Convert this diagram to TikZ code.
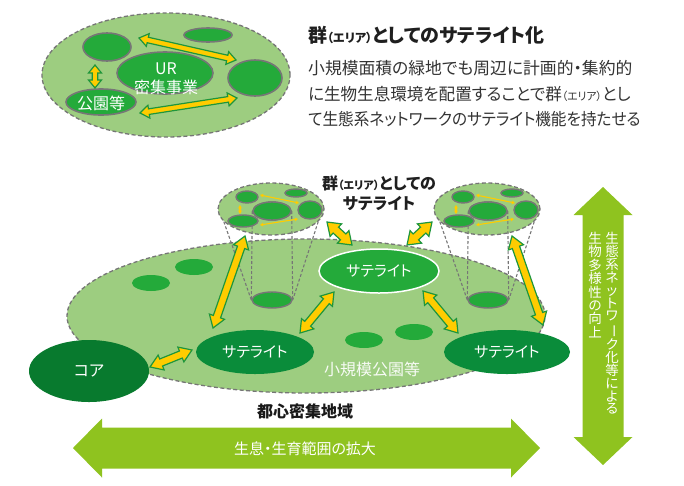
\documentclass[tikz,border=0pt]{standalone}
\usepackage{fontspec}
\usepackage{graphicx}
\usetikzlibrary{shapes.geometric,calc,arrows.meta}
\newfontfamily\jp[CharacterWidth=AlternateProportional]{Noto Sans CJK JP}
\definecolor{lg}{RGB}{157,205,128}
\definecolor{mg}{RGB}{36,170,58}
\definecolor{dg}{RGB}{10,140,58}
\definecolor{cg}{RGB}{8,122,46}
\definecolor{yg}{RGB}{143,195,31}
\definecolor{ay}{RGB}{255,204,0}
\definecolor{ag}{RGB}{30,150,60}
\definecolor{gl}{RGB}{118,118,118}
\tikzset{
  bigell/.style={ellipse, draw=gl, dash pattern=on 4pt off 2.5pt, line width=1.3pt, fill=lg, inner sep=0},
  innerc/.style={ellipse, draw=gl, line width=1.6pt, fill=mg, inner sep=0},
  blob/.style={ellipse, fill=mg, inner sep=0},
  satn/.style={ellipse, fill=dg, inner sep=0, text=white, font=\jp\fontsize{15}{15}\selectfont},
  conel/.style={draw=gl, line width=1.1pt, dash pattern=on 3pt off 2pt},
  yarr/.style={fill=ay, draw=ag, line width=1.2pt, line join=miter},
  tinyarr/.style={draw=ay, line width=1.1pt, {Stealth[length=3.5pt,width=4pt]}-{Stealth[length=3.5pt,width=4pt]}},
  txt/.style={inner sep=0, font=\jp\fontsize{16.8}{16.8}\selectfont, text=black!80},
  wtxt/.style={inner sep=0, text=white},
}
\newcommand{\yarrowdraw}[5]{%
  \path ($(#1)!#5!(#2)$) coordinate (ha) ($(#2)!#5!(#1)$) coordinate (hb);
  \filldraw[yarr] ($(ha)!#3!90:(#2)$) -- ($(ha)!#4!90:(#2)$) -- ($(hb)!#4!-90:(#1)$) -- ($(hb)!#3!-90:(#1)$) -- (#2) -- ($(hb)!#3!90:(#1)$) -- ($(hb)!#4!90:(#1)$) -- ($(ha)!#4!-90:(#2)$) -- ($(ha)!#3!-90:(#2)$) -- (#1) -- cycle;
}
\newcommand{\clusterat}[2]{%
\begin{scope}[shift={(#2,0)}]
  \node[bigell, minimum width=106, minimum height=52] (#1g) at (271,209) {};
  \node[innerc, line width=1.4pt, minimum width=38, minimum height=18] (#1m) at (272,211) {};
  \node[innerc, line width=1.4pt, minimum width=40, minimum height=16] (#1b) at (272,300) {};
  \draw[conel] (#1m.west) -- (#1b.west) (#1m.east) -- (#1b.east)
               (#1g.195) -- (#1b.west) (#1g.-15) -- (#1b.east);
  \node[innerc, line width=1.4pt, minimum width=38, minimum height=18] at (272,211) {};
  \node[innerc, line width=1.4pt, minimum width=22, minimum height=12] (#1p) at (247,197) {};
  \node[innerc, line width=1.4pt, minimum width=22, minimum height=8] (#1q) at (296,193) {};
  \node[innerc, line width=1.4pt, minimum width=24, minimum height=18] (#1r) at (310,210) {};
  \node[innerc, line width=1.4pt, minimum width=30, minimum height=12] (#1s) at (243,221) {};
  \coordinate (#1t1) at (260,195); \coordinate (#1t2) at (299,203);
  \coordinate (#1t3) at (240,205); \coordinate (#1t4) at (240,214);
  \coordinate (#1t5) at (260,225); \coordinate (#1t6) at (298,219);
  \draw[tinyarr] (#1t1) -- (#1t2);
  \draw[tinyarr] (#1t3) -- (#1t4);
  \draw[tinyarr] (#1t5) -- (#1t6);
\end{scope}}
\begin{document}
\begin{tikzpicture}[x=1pt,y=-1pt]
\useasboundingbox (0,0) rectangle (684,485);
\fill[white] (0,0) rectangle (684,485);

% ---------- top-left schematic ----------
\node[bigell, minimum width=248, minimum height=124] (grp) at (166,75) {};
\node[innerc, minimum width=48, minimum height=28] (ga) at (107,47) {};
\node[innerc, minimum width=48, minimum height=14] (gb) at (208,35) {};
\node[innerc, minimum width=96, minimum height=42] (ur) at (165,73) {};
\node[innerc, minimum width=54, minimum height=36] (gc) at (255,78) {};
\node[innerc, minimum width=70, minimum height=26] (park) at (101,102) {};
\node[wtxt, align=center, font=\jp\fontsize{16}{19}\selectfont] (urt) at (166,79) {UR\\密集事業};
\node[wtxt, font=\jp\fontsize{16}{16}\selectfont] (parkt) at (101,103) {公園等};
\coordinate (s1) at (139,38); \coordinate (e1) at (236,60);
\coordinate (s2) at (95,65);  \coordinate (e2) at (95,88);
\coordinate (s3) at (140,113); \coordinate (e3) at (237,98);
\yarrowdraw{s1}{e1}{6.5pt}{2.8pt}{9pt}
\yarrowdraw{s2}{e2}{6.5pt}{2.8pt}{8pt}
\yarrowdraw{s3}{e3}{6.5pt}{2.8pt}{9pt}

% ---------- text block ----------
\node[txt, anchor=west, font=\jp\bfseries\fontsize{19}{19}\selectfont, text=black!88] (title) at (308,35)
  {群{\fontsize{12}{12}\selectfont （エリア）}としてのサテライト化};
\node[txt, anchor=west] (l1) at (308,68) {小規模面積の緑地でも周辺に計画的・集約的};
\node[txt, anchor=west] (l2) at (308,94) {\scalebox{0.985}[1]{に生物生息環境を配置することで群{\fontsize{11}{11}\selectfont （エリア）}とし}};
\node[txt, anchor=west] (l3) at (308,119) {\scalebox{0.93}[1]{て生態系ネットワークのサテライト機能を持たせる}};

% ---------- main area ----------
\node[bigell, minimum width=478, minimum height=154] (city) at (306,316) {};
\node[blob, minimum width=38, minimum height=16] (b1) at (194,267) {};
\node[blob, minimum width=38, minimum height=16] (b2) at (151,283) {};
\node[blob, minimum width=38, minimum height=16] (b3) at (364,340) {};
\node[blob, minimum width=38, minimum height=16] (b4) at (414,332) {};

\clusterat{L}{0}
\clusterat{R}{216}

\node[satn, fill=mg, draw=white, line width=1.5pt, minimum width=120, minimum height=44] (satc) at (379,271) {サテライト};
\node[satn, minimum width=118, minimum height=44] (satl) at (255,352) {サテライト};
\node[satn, minimum width=126, minimum height=44] (satr) at (507,352) {サテライト};
\node[satn, fill=cg, minimum width=120, minimum height=62, font=\jp\fontsize{16}{16}\selectfont] (core) at (89,371) {コア};
\node[wtxt, text=white!92!lg, font=\jp\fontsize{16}{16}\selectfont] (small) at (372,369) {小規模公園等};

% yellow connectors
\coordinate (c1a) at (150,367); \coordinate (c1b) at (192,350);
\coordinate (c2a) at (213,328); \coordinate (c2b) at (245,236);
\coordinate (c3a) at (300,333); \coordinate (c3b) at (334,292);
\coordinate (c4a) at (423,291); \coordinate (c4b) at (458,333);
\coordinate (c5a) at (543,325); \coordinate (c5b) at (512,236);
\coordinate (c6a) at (327,222); \coordinate (c6b) at (352,245);
\coordinate (c7a) at (432,222); \coordinate (c7b) at (407,245);
\yarrowdraw{c1a}{c1b}{8pt}{3.8pt}{12pt}
\yarrowdraw{c2a}{c2b}{8pt}{3.8pt}{12pt}
\yarrowdraw{c3a}{c3b}{8pt}{3.8pt}{12pt}
\yarrowdraw{c4a}{c4b}{8pt}{3.8pt}{12pt}
\yarrowdraw{c5a}{c5b}{8pt}{3.8pt}{12pt}
\yarrowdraw{c6a}{c6b}{8.5pt}{4pt}{12pt}
\yarrowdraw{c7a}{c7b}{8.5pt}{4pt}{12pt}

\node[txt, align=center, font=\jp\bfseries\fontsize{16}{20}\selectfont, text=black!88] (mtitle) at (379,193)
  {群{\fontsize{11}{11}\selectfont （エリア）}としての\\サテライト};

% ---------- big green arrows ----------
\fill[yg] (73,448) -- (102,418.5) -- (102,427.5) -- (511,427.5) -- (511,418.5) -- (540,448)
  -- (511,477.5) -- (511,468.5) -- (102,468.5) -- (102,477.5) -- cycle;
\fill[yg] (603,187) -- (632.5,215) -- (623.5,215) -- (623.5,437) -- (632.5,437) -- (603,465)
  -- (573.5,437) -- (582.5,437) -- (582.5,215) -- (573.5,215) -- cycle;

\node[txt, font=\jp\bfseries\fontsize{16}{16}\selectfont, text=black!90] (region) at (305,411) {都心密集地域};
\node[wtxt, font=\jp\fontsize{15}{15}\selectfont] (range) at (305,449) {生息・生育範囲の拡大};

\node[wtxt, anchor=north, align=center, font=\jp\fontsize{13.5}{12.9}\selectfont] (vr) at (612,232)
  {生\\態\\系\\ネ\\ッ\\ト\\ワ\\\rotatebox[origin=c]{-90}{ー}\\ク\\化\\等\\に\\よ\\る};
\node[wtxt, anchor=north, align=center, font=\jp\fontsize{13.5}{13.4}\selectfont] (vl) at (595,232)
  {生\\物\\多\\様\\性\\の\\向\\上};
\end{tikzpicture}
\end{document}
